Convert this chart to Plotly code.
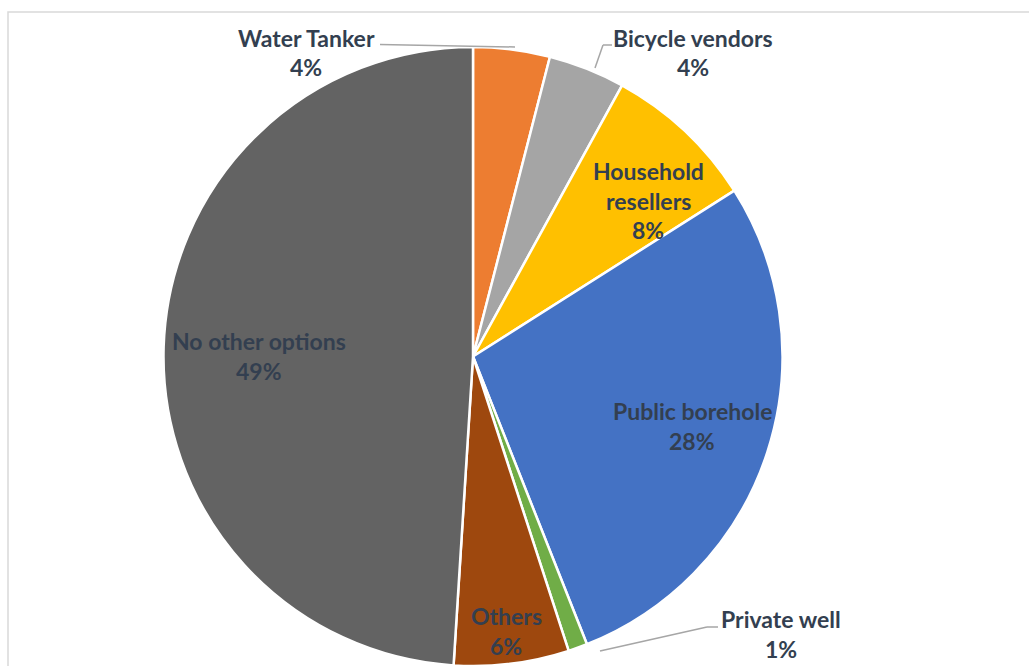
import plotly.graph_objects as go

# Water source shares (percent), clockwise from 12 o'clock
sources = ["Water Tanker", "Bicycle vendors", "Household resellers", "Public borehole",
           "Private well", "Others", "No other options"]
shares = [4, 4, 8, 28, 1, 6, 49]
colors = ["#ED7D31", "#A5A5A5", "#FFC000", "#4472C4", "#70AD47", "#9E480E", "#636363"]

W, H = 1029, 666
TEXT = "#333F50"
FONT = "Lato"

# pie placement in pixels
cx, cy, r = 473, 356.5, 309.5

fig = go.Figure(go.Pie(
    labels=sources, values=shares, sort=False, direction="clockwise", rotation=0,
    marker=dict(colors=colors, line=dict(color="white", width=2.5)),
    textinfo="none", hoverinfo="label+percent", showlegend=False,
    domain=dict(x=[(cx - r) / W, (cx + r) / W], y=[(H - cy - r) / H, (H - cy + r) / H]),
))

# label lines: (center x, first line y, line breaks of the name)
label_layout = {
    "Water Tanker": (306, 38, ["Water Tanker"]),
    "Bicycle vendors": (693, 38, ["Bicycle vendors"]),
    "Household resellers": (648, 171, ["Household", "resellers"]),
    "Public borehole": (692, 411, ["Public borehole"]),
    "Private well": (781, 619, ["Private well"]),
    "Others": (506, 616, ["Others"]),
    "No other options": (259, 341, ["No other options"]),
}
LINE_GAP = 29.5

annotations = []
for name, val in zip(sources, shares):
    x, y0, lines = label_layout[name]
    for i, txt in enumerate(lines + [f"{val}%"]):
        annotations.append(dict(
            x=x / W, y=1 - (y0 + i * LINE_GAP) / H, xref="paper", yref="paper",
            text=f"<b>{txt}</b>", showarrow=False, xanchor="center", yanchor="middle",
            font=dict(family=FONT, size=23, color=TEXT),
        ))

def px(x, y):
    return x / W, 1 - y / H

shapes = []
# leader lines for the outside labels
leaders = [
    [(380, 44.5), (515, 47)],
    [(595, 68), (603, 45), (612, 45)],
    [(600, 651), (707, 627), (718, 627)],
]
for pts in leaders:
    for (x0, y0), (x1, y1) in zip(pts[:-1], pts[1:]):
        a, b = px(x0, y0)
        c, d = px(x1, y1)
        shapes.append(dict(type="line", xref="paper", yref="paper", x0=a, y0=b, x1=c, y1=d,
                           line=dict(color="#A6A6A6", width=1.5)))

# chart frame
a, b = px(8, 12)
shapes.append(dict(type="rect", xref="paper", yref="paper", x0=a, y0=-0.05, x1=1.05, y1=b,
                   line=dict(color="#D9D9D9", width=1.5), layer="below"))

fig.update_layout(
    width=W, height=H, margin=dict(l=0, r=0, t=0, b=0),
    paper_bgcolor="white", plot_bgcolor="white",
    annotations=annotations, shapes=shapes,
)

fig.write_html("out.html")
